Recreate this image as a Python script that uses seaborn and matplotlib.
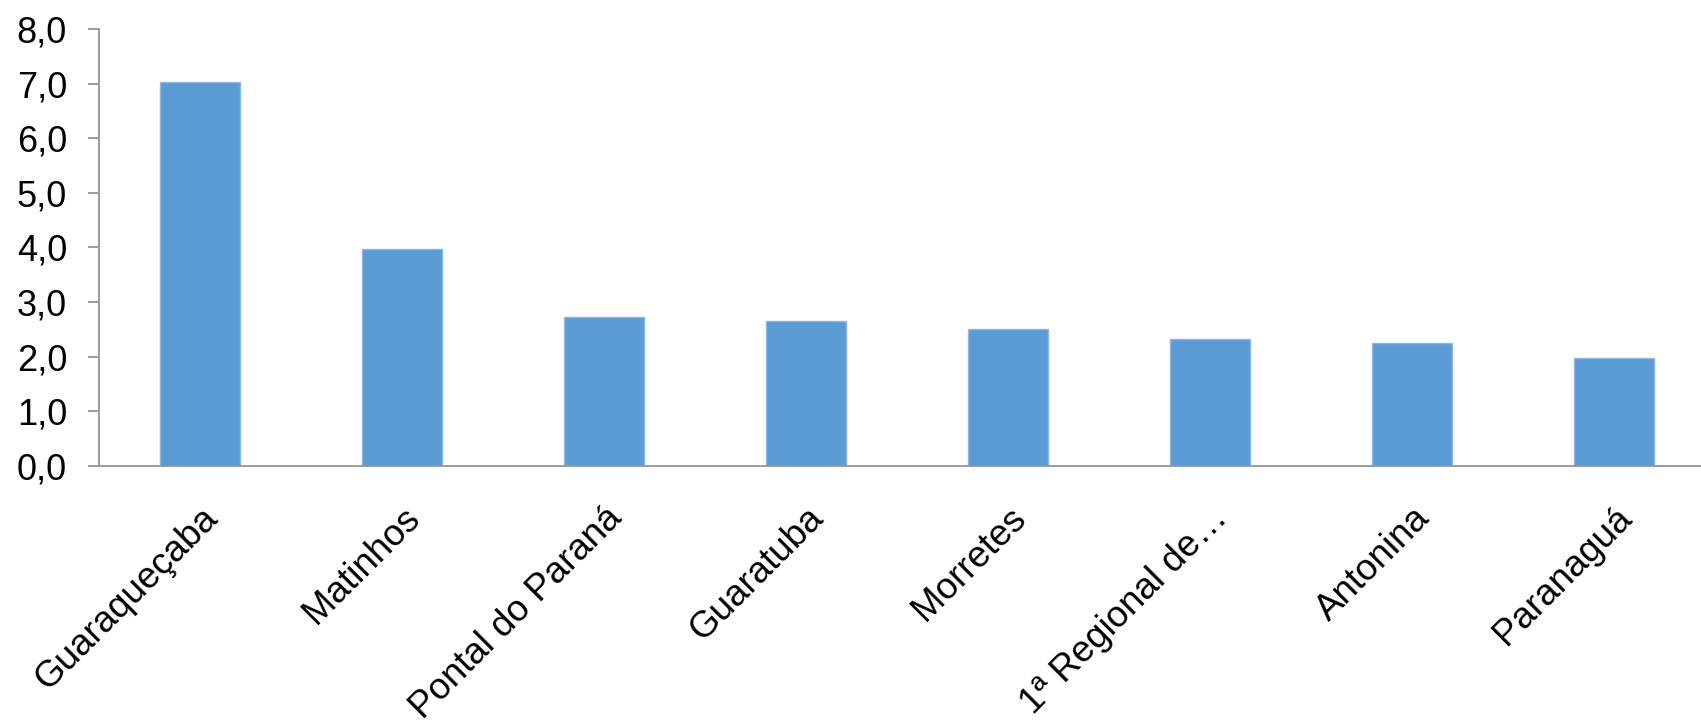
import matplotlib
matplotlib.use("Agg")
import matplotlib.pyplot as plt
from matplotlib.ticker import FuncFormatter, MultipleLocator
import pandas as pd
import seaborn as sns

# Values
municipios = ["Guaraqueçaba", "Matinhos", "Pontal do Paraná", "Guaratuba",
              "Morretes", "1ª Regional de…", "Antonina", "Paranaguá"]
valores = [7.03, 3.97, 2.72, 2.65, 2.51, 2.32, 2.26, 1.98]

df = pd.DataFrame({"municipio": municipios, "valor": valores})

sns.set_style("white")
plt.rcParams["font.family"] = ["Liberation Sans", "DejaVu Sans"]

fig = plt.figure(figsize=(17.01, 7.2), dpi=100)
ax = fig.add_axes([0.0582, 0.3528, 0.95, 0.607])

sns.barplot(data=df, x="municipio", y="valor", color="#5B9BD5", saturation=1,
            width=0.4, edgecolor="#8DB8E3", linewidth=1, ax=ax)

axis_grey = "#959595"
ax.set_xlim(-0.5, len(municipios) - 0.5)
ax.set_ylim(0, 8)
ax.yaxis.set_major_locator(MultipleLocator(1))
ax.yaxis.set_major_formatter(FuncFormatter(lambda v, p: f"{v:.1f}".replace(".", ",")))

for side in ["top", "right"]:
    ax.spines[side].set_visible(False)
for side in ["left", "bottom"]:
    ax.spines[side].set_color(axis_grey)
    ax.spines[side].set_linewidth(1.3)

ax.tick_params(axis="y", direction="out", length=8, width=1.3, color=axis_grey,
               labelsize=26, labelcolor="black", pad=15, left=True)
ax.tick_params(axis="x", length=0, labelsize=26.5, labelcolor="black", pad=25)
plt.setp(ax.get_xticklabels(), rotation=45, ha="right", va="top",
         rotation_mode="anchor")

ax.set_xlabel("")
ax.set_ylabel("")

fig.savefig("out.png", dpi=100)
